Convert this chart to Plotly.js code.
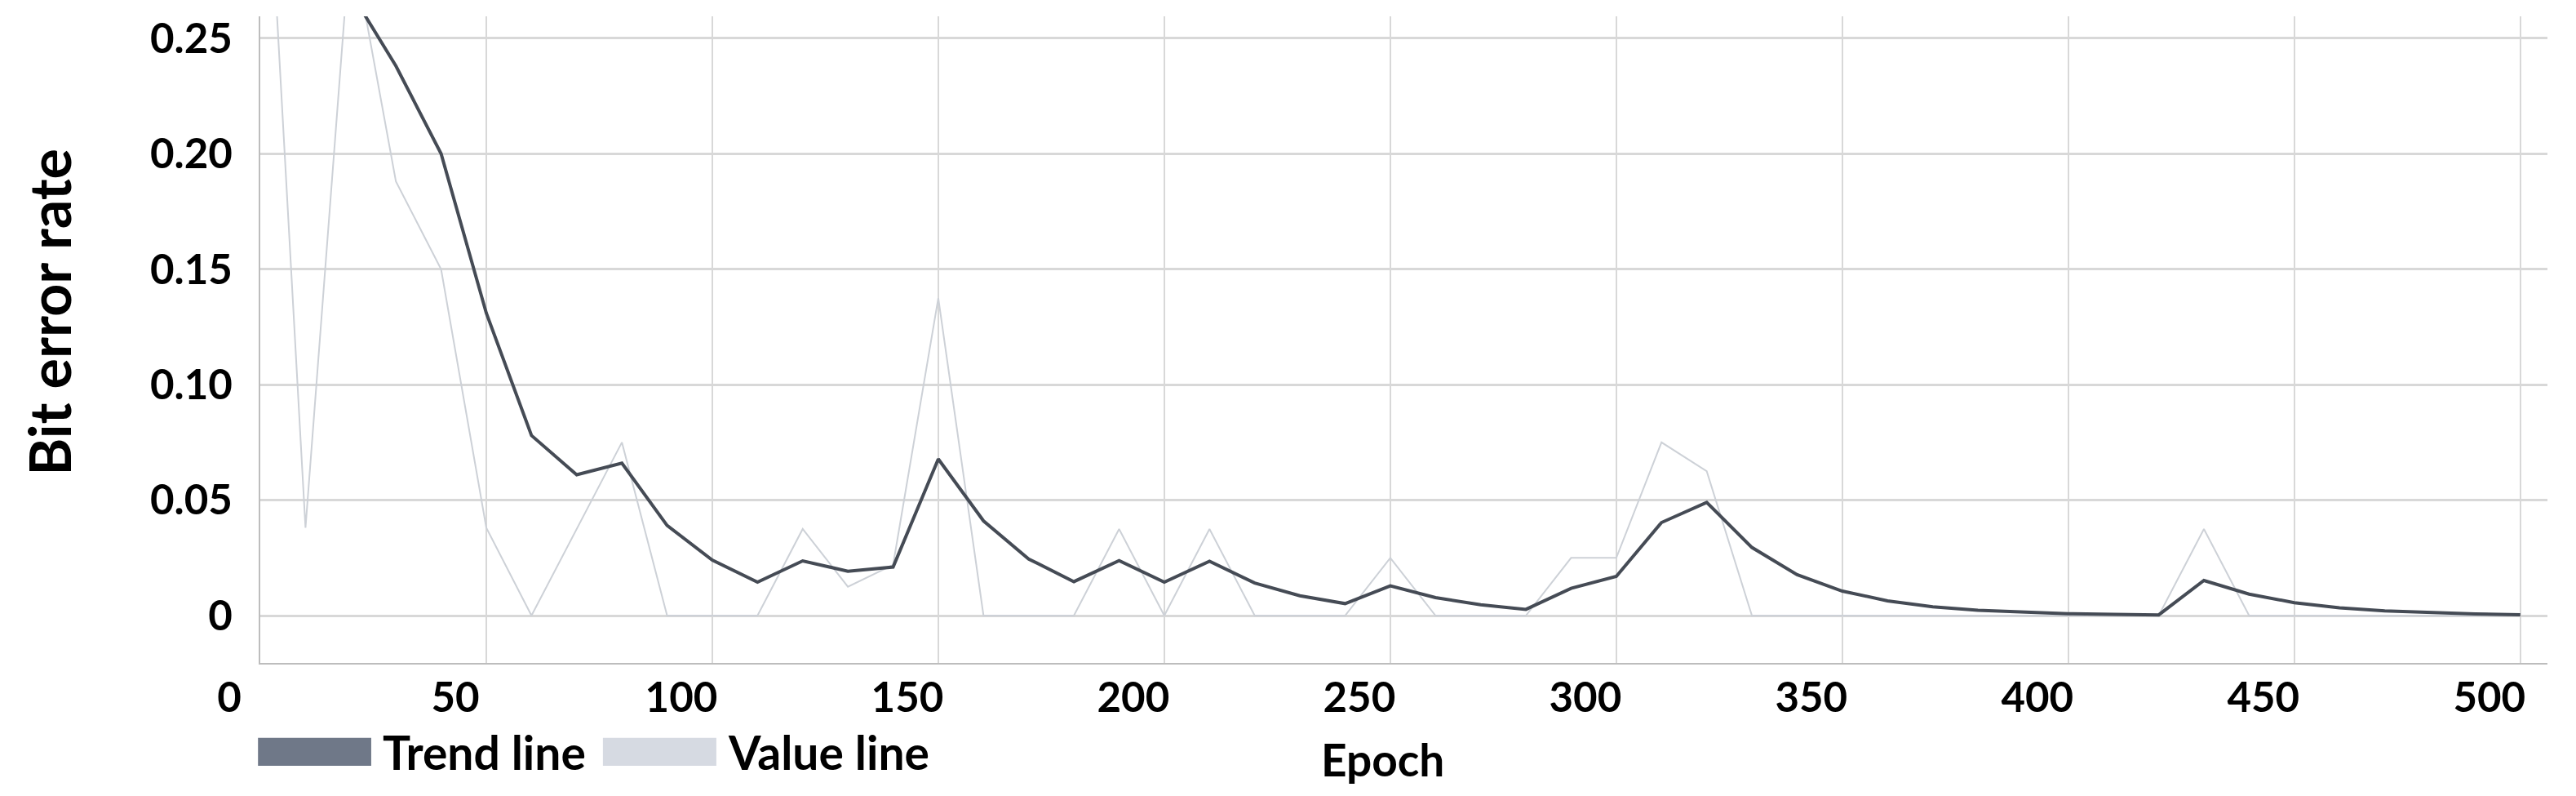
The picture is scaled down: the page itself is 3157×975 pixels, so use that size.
<!DOCTYPE html>
<html>
<head>
<meta charset="utf-8">
<script src="https://cdn.plot.ly/plotly-3.0.1.min.js"></script>
<style>
  html, body { margin: 0; padding: 0; background: #ffffff; }
  #chart-ber { width: 3157px; height: 975px; }
</style>
</head>
<body>
<div id="chart-ber"></div>
<script>
// epochs sampled every 10
const epochs = [0, 10, 20, 30, 40, 50, 60, 70, 80, 90,
    100, 110, 120, 130, 140, 150, 160, 170, 180, 190,
    200, 210, 220, 230, 240, 250, 260, 270, 280, 290,
    300, 310, 320, 330, 340, 350, 360, 370, 380, 390,
    400, 410, 420, 430, 440, 450, 460, 470, 480, 490, 500];

// raw bit error rate per sample
const valueLine = [0.39, 0.038, 0.295, 0.188, 0.150, 0.038, 0, 0.0375, 0.075, 0,
    0, 0, 0.0375, 0.0125, 0.022, 0.1375, 0, 0, 0, 0.0375,
    0, 0.0375, 0, 0, 0, 0.025, 0, 0, 0, 0.025,
    0.025, 0.075, 0.0625, 0, 0, 0, 0, 0, 0, 0,
    0, 0, 0, 0.0375, 0, 0, 0, 0, 0, 0, 0];

// smoothed trend
const trendLine = [0.39, 0.265, 0.270, 0.238, 0.200, 0.131, 0.078, 0.061, 0.066, 0.039,
    0.024, 0.0145, 0.0237, 0.0192, 0.021, 0.0678, 0.041, 0.0245, 0.0147, 0.0238,
    0.0145, 0.0235, 0.0141, 0.0086, 0.0052, 0.0129, 0.0078, 0.0047, 0.0027, 0.0118,
    0.0170, 0.0403, 0.0490, 0.0295, 0.0177, 0.0106, 0.0064, 0.0038, 0.0023, 0.0014,
    0.0008, 0.0005, 0.0003, 0.0152, 0.0093, 0.0056, 0.0034, 0.0020, 0.0012, 0.0007, 0.0004];

const xTicks = [0, 50, 100, 150, 200, 250, 300, 350, 400, 450, 500];
const yTicks = [0, 0.05, 0.10, 0.15, 0.20, 0.25];
const yTickText = ['0', '0.05', '0.10', '0.15', '0.20', '0.25'];

const seriesNames = ['Trend line', 'Value line'];
const xTitle = 'Epoch';
const yTitle = 'Bit error rate';

const colors = {
    trend: '#454b55',
    value: '#cdd1d7',
    trendKey: '#6f7888',
    valueKey: '#d6dae2',
    grid: '#d8d8d8',
    axis: '#bdbdbd'
};

const font = 'Lato, "Open Sans", sans-serif';

const traces = [
    {
        x: epochs,
        y: valueLine,
        name: seriesNames[1],
        type: 'scatter',
        mode: 'lines',
        line: { color: colors.value, width: 2 },
        showlegend: false
    },
    {
        x: epochs,
        y: trendLine,
        name: seriesNames[0],
        type: 'scatter',
        mode: 'lines',
        line: { color: colors.trend, width: 4 },
        showlegend: false
    }
];

// legend drawn as blocks under the axis, like the original
const keyText = { family: font, size: 57, color: '#000000', weight: 700 };

const layout = {
    width: 3157,
    height: 975,
    margin: { l: 319, r: 35, t: 20, b: 163 },
    paper_bgcolor: '#ffffff',
    plot_bgcolor: '#ffffff',
    showlegend: false,
    xaxis: {
        range: [0, 506],
        tickmode: 'array',
        tickvals: xTicks,
        ticks: '',
        ticklabelshift: -38,
        ticklabelstandoff: -3,
        showgrid: true,
        gridcolor: colors.grid,
        gridwidth: 2,
        zeroline: false,
        showline: true,
        linecolor: colors.axis,
        linewidth: 2,
        tickfont: { family: font, size: 51, color: '#000000', weight: 700 }
    },
    yaxis: {
        range: [-0.0205, 0.2595],
        tickmode: 'array',
        tickvals: yTicks,
        ticktext: yTickText,
        ticks: '',
        ticklabelstandoff: 22,
        showgrid: true,
        gridcolor: colors.grid,
        gridwidth: 3,
        zeroline: false,
        showline: true,
        linecolor: colors.axis,
        linewidth: 2,
        tickfont: { family: font, size: 51, color: '#000000', weight: 700 }
    },
    shapes: [
        {
            type: 'rect', xref: 'paper', yref: 'paper',
            x0: -0.001, x1: 0.0485, y0: -0.159, y1: -0.116,
            fillcolor: colors.trendKey, line: { width: 0 }
        },
        {
            type: 'rect', xref: 'paper', yref: 'paper',
            x0: 0.1498, x1: 0.1994, y0: -0.159, y1: -0.116,
            fillcolor: colors.valueKey, line: { width: 0 }
        }
    ],
    annotations: [
        {
            text: seriesNames[0], xref: 'paper', yref: 'paper',
            x: 0.0528, y: -0.137, xanchor: 'left', yanchor: 'middle',
            showarrow: false, font: keyText
        },
        {
            text: seriesNames[1], xref: 'paper', yref: 'paper',
            x: 0.2037, y: -0.137, xanchor: 'left', yanchor: 'middle',
            showarrow: false, font: keyText
        },
        {
            text: xTitle, xref: 'paper', yref: 'paper',
            x: 0.4909, y: -0.149, xanchor: 'center', yanchor: 'middle',
            showarrow: false,
            font: { family: font, size: 55, color: '#000000', weight: 700 }
        },
        {
            text: yTitle, xref: 'paper', yref: 'paper',
            x: -0.0924, y: 0.542, xanchor: 'center', yanchor: 'middle',
            textangle: -90, showarrow: false,
            font: { family: font, size: 70, color: '#000000', weight: 700 }
        }
    ]
};

const config = {
    responsive: false,
    displayModeBar: false
};

Plotly.newPlot('chart-ber', traces, layout, config);
</script>
</body>
</html>
